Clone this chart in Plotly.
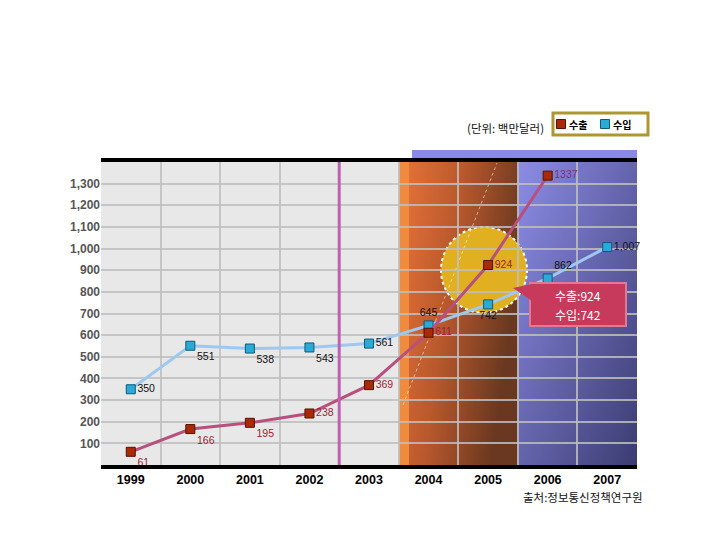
import base64
import plotly.graph_objects as go

# data
years = ["1999", "2000", "2001", "2002", "2003", "2004", "2005", "2006", "2007"]
export_vals = [61, 166, 195, 238, 369, 611, 924, 1337]          # 수출, 1999-2006
import_vals = [350, 551, 538, 543, 561, 645, 742, 862, 1007]    # 수입, 1999-2007
y_ticks = [100, 200, 300, 400, 500, 600, 700, 800, 900, 1000, 1100, 1200, 1300]

# label placement per point
export_text_pos = ["bottom right"] * 3 + ["middle right"] * 5
import_text_pos = ["middle right", "bottom right", "bottom right", "bottom right",
                   "middle right", "top center", "bottom center", "top right", "middle right"]

W, H = 720, 540
BODY = 8  # default page margin around the plot div
PLOT_L, PLOT_R, PLOT_T, PLOT_B = 101, 637, 162, 465   # plot area in page pixels
KR = "Noto Sans CJK KR"
LAT = "Liberation Sans"
CALLOUT = "#c83a5c"


def px(x):
    """page pixel x -> paper x"""
    return (x - PLOT_L) / (PLOT_R - PLOT_L)


def py(y):
    """page pixel y -> paper y"""
    return (PLOT_B - y) / (PLOT_B - PLOT_T)


def svg_uri(svg: str) -> str:
    return "data:image/svg+xml;base64," + base64.b64encode(svg.encode("utf-8")).decode("ascii")


orange_svg = (
    '<svg xmlns="http://www.w3.org/2000/svg" width="100" height="100" viewBox="0 0 100 100" '
    'preserveAspectRatio="none"><defs><linearGradient id="g" x1="0" y1="0" x2="1" y2="0.35">'
    '<stop offset="0" stop-color="#ea743a"/><stop offset="0.5" stop-color="#b8582c"/>'
    '<stop offset="1" stop-color="#6a3820"/></linearGradient></defs>'
    '<rect width="100" height="100" fill="url(#g)"/><rect width="8.6" height="100" fill="#f08a3c"/></svg>'
)
purple_svg = (
    '<svg xmlns="http://www.w3.org/2000/svg" width="100" height="100" viewBox="0 0 100 100" '
    'preserveAspectRatio="none"><defs><linearGradient id="p" x1="0" y1="0" x2="1" y2="1">'
    '<stop offset="0" stop-color="#8c8ce6"/><stop offset="1" stop-color="#3c3c72"/>'
    '</linearGradient></defs><rect width="100" height="100" fill="url(#p)"/></svg>'
)

fig = go.Figure()

fig.add_trace(go.Scatter(
    x=years[:len(import_vals)], y=import_vals, name="수입",
    mode="lines+markers+text",
    line=dict(color="#9ec8f0", width=3),
    marker=dict(symbol="square", size=9, color="#2aaad6", line=dict(color="#0f5a78", width=1)),
    text=[f"{v:,}" for v in import_vals], textposition=import_text_pos,
    textfont=dict(family=LAT, size=10.5, color="#111111"),
    cliponaxis=False,
))
fig.add_trace(go.Scatter(
    x=years[:len(export_vals)], y=export_vals, name="수출",
    mode="lines+markers+text",
    line=dict(color="#b8507e", width=3),
    marker=dict(symbol="square", size=9, color="#a82a08", line=dict(color="#581000", width=1)),
    text=[str(v) for v in export_vals], textposition=export_text_pos,
    textfont=dict(family=LAT, size=10.5,
                  color=["#a01c36"] * (len(export_vals) - 1) + ["#8a2a7a"]),
    cliponaxis=False,
))

shapes = [
    # purple strip peeking above the plot
    dict(type="rect", xref="paper", yref="paper", x0=px(412), x1=1, y0=1, y1=py(150),
         fillcolor="#8a8ae6", line=dict(width=0), layer="below"),
    # highlight circle
    dict(type="circle", xref="paper", yref="paper", x0=px(441), x1=px(527), y0=py(313), y1=py(227),
         fillcolor="#e0b020", line=dict(color="white", width=2, dash="dot"), layer="below"),
    # faint dotted diagonal
    dict(type="line", xref="paper", yref="paper", x0=px(403), y0=py(405), x1=px(497), y1=py(163),
         line=dict(color="rgba(255,255,255,0.55)", width=1, dash="dot"), layer="below"),
    # pink divider
    dict(type="line", xref="x", yref="paper", x0=3.5, x1=3.5, y0=0, y1=1,
         line=dict(color="#c060b0", width=3), layer="above"),
    # callout box + pointer
    dict(type="rect", xref="paper", yref="paper", x0=px(530), x1=px(626), y0=py(326), y1=py(283),
         fillcolor=CALLOUT, line=dict(color="#e07898", width=2), layer="above"),
    dict(type="path", xref="paper", yref="paper",
         path=f"M {px(532)} {py(284)} L {px(513)} {py(288)} L {px(532)} {py(301)} Z",
         fillcolor=CALLOUT, line=dict(width=0), layer="above"),
    # legend box
    dict(type="rect", xref="paper", yref="paper", x0=px(553), x1=px(648), y0=py(135), y1=py(113),
         fillcolor="white", line=dict(color="#ae9630", width=3)),
    dict(type="rect", xref="paper", yref="paper", x0=px(556.5), x1=px(565.5), y0=py(128.5), y1=py(119.5),
         fillcolor="#a82a08", line=dict(color="#581000", width=1)),
    dict(type="rect", xref="paper", yref="paper", x0=px(600.5), x1=px(609.5), y0=py(128.5), y1=py(119.5),
         fillcolor="#2aaad6", line=dict(color="#0f5a78", width=1)),
]

images = [
    dict(source=svg_uri(orange_svg), xref="x", yref="paper", x=4.5, y=1, sizex=2, sizey=1,
         xanchor="left", yanchor="top", sizing="stretch", layer="below"),
    dict(source=svg_uri(purple_svg), xref="x", yref="paper", x=6.5, y=1, sizex=2, sizey=1,
         xanchor="left", yanchor="top", sizing="stretch", layer="below"),
]

annotations = [
    dict(text="(단위: 백만달러)", xref="paper", yref="paper", x=px(546), y=py(128),
         xanchor="right", yanchor="middle", showarrow=False,
         font=dict(family=KR, size=11.5, color="#111111")),
    dict(text="<b>수출</b>", xref="paper", yref="paper", x=px(567), y=py(124),
         xanchor="left", yanchor="middle", showarrow=False, font=dict(family=KR, size=10, color="black")),
    dict(text="<b>수입</b>", xref="paper", yref="paper", x=px(611), y=py(124),
         xanchor="left", yanchor="middle", showarrow=False, font=dict(family=KR, size=10, color="black")),
    dict(text=f"수출:{export_vals[6]}", xref="paper", yref="paper",
         x=px(578), y=py(295), xanchor="center", yanchor="middle", showarrow=False,
         font=dict(family=KR, size=12, color="white")),
    dict(text=f"수입:{import_vals[6]}", xref="paper", yref="paper",
         x=px(578), y=py(314), xanchor="center", yanchor="middle", showarrow=False,
         font=dict(family=KR, size=12, color="white")),
    dict(text="출처:정보통신정책연구원", xref="paper", yref="paper", x=px(645), y=py(497),
         xanchor="right", yanchor="middle", showarrow=False,
         font=dict(family=KR, size=11.5, color="#111111")),
]

fig.update_layout(
    template="none",
    width=W, height=H,
    margin=dict(l=PLOT_L - BODY, r=W - PLOT_R + BODY, t=PLOT_T - BODY, b=H - PLOT_B + BODY,
                autoexpand=False),
    paper_bgcolor="white", plot_bgcolor="#e8e8e8",
    showlegend=False,
    shapes=shapes, images=images, annotations=annotations,
    xaxis=dict(type="category", range=[-0.5, 8.5], tickson="boundaries",
               showgrid=True, gridcolor="rgba(190,190,190,0.85)", gridwidth=2,
               showline=True, mirror=True, linecolor="black", linewidth=4,
               ticks="", tickfont=dict(family=LAT, size=12.5, color="black", weight="bold"),
               zeroline=False, automargin=False, fixedrange=True),
    yaxis=dict(range=[0, 1400], tickvals=y_ticks, tickformat=",",
               showgrid=True, gridcolor="rgba(190,190,190,0.85)", gridwidth=2,
               showline=False, zeroline=False, ticks="",
               tickfont=dict(family=LAT, size=12, color="#555555", weight="bold"),
               automargin=False, fixedrange=True),
)

fig.write_html("out.html")
